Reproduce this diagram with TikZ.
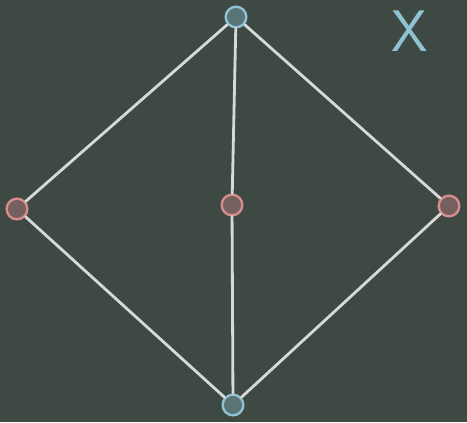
\documentclass[tikz,border=0pt]{standalone}
\usepackage{tikz}
\usetikzlibrary{positioning}
\definecolor{cboard}{HTML}{3E4944}
\definecolor{cchalk}{HTML}{D6DAD6}
\definecolor{cred}{HTML}{D88C8E}
\definecolor{cblue}{HTML}{8FC3D4}
\tikzset{
  edge/.style={draw=cchalk, line width=2.4pt, line cap=round},
  rvert/.style={circle, draw=cred, line width=2pt, fill=cred!35!cboard, minimum size=0.62cm, inner sep=0pt},
  bvert/.style={circle, draw=cblue, line width=2pt, fill=cblue!35!cboard, minimum size=0.62cm, inner sep=0pt},
}

\begin{document}
\begin{tikzpicture}[
    every node/.style={font=\small},
    lbl/.style={text=cblue, font=\fontsize{50}{50}\selectfont\sffamily, inner sep=0pt}
  ]

  % Board
  \fill[cboard] (0, 0) rectangle (14.01, -12.66);
  \useasboundingbox (0, 0) rectangle (14.01, -12.66);

  % Vertices
  \node[bvert] (top) at (7.08, -0.51) {};
  \node[rvert] (left) at (0.51, -6.27) {};
  \node[rvert] (mid) at (6.96, -6.15) {};
  \node[rvert] (right) at (13.47, -6.18) {};
  \node[bvert] (bot) at (6.99, -12.15) {};

  % Edges
  \draw[edge] (top) -- (left);
  \draw[edge] (top) -- (mid);
  \draw[edge] (top) -- (right);
  \draw[edge] (left) -- (bot);
  \draw[edge] (mid) -- (bot);
  \draw[edge] (right) -- (bot);

  % Label
  \node[lbl] (x) at (12.3, -0.95) {X};

\end{tikzpicture}
\end{document}
